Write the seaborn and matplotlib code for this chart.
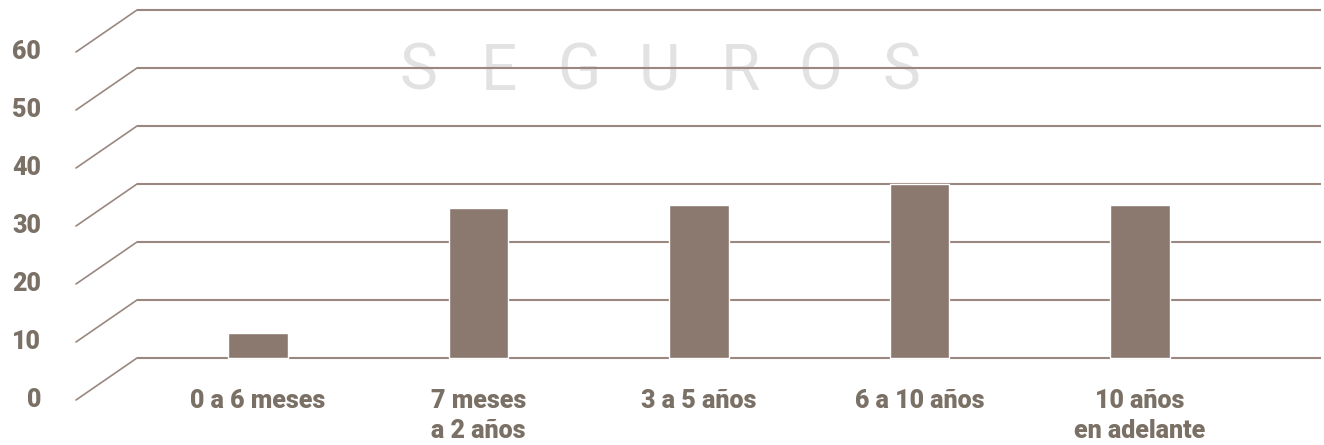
import matplotlib
matplotlib.use('Agg')
import matplotlib.pyplot as plt
import seaborn as sns
import pandas as pd

# valores
categorias = ['0 a 6 meses', '7 meses\na 2 años', '3 a 5 años', '6 a 10 años', '10 años\nen adelante']
valores = [4.3, 25.8, 26.4, 30.0, 26.4]
marcas_y = [0, 10, 20, 30, 40, 50, 60]
marca_agua = 'SEGUROS'

COLOR_BARRA = '#8b786f'
COLOR_LINEA = '#9a8880'
COLOR_TEXTO = '#7a7065'

sns.set_theme(style='white')
plt.rcParams['font.family'] = ['Roboto', 'DejaVu Sans']

W, H = 1324, 445
fig = plt.figure(figsize=(W / 100, H / 100), dpi=100)
px = 5.8  # pixeles por unidad
ax = fig.add_axes([137 / W, (H - 358 - px) / H, (1321 - 137) / W, (62 * px) / H])

df = pd.DataFrame({'cat': categorias, 'val': valores})
sns.barplot(data=df, x='cat', y='val', color=COLOR_BARRA, saturation=1,
            width=0.27, ax=ax, zorder=3)

ax.set_xlim(-0.549, 4.821)
ax.set_ylim(-1, 61)
ax.set_yticks(marcas_y)
ax.yaxis.grid(True, color=COLOR_LINEA, lw=1.5)
ax.set_axisbelow(True)
ax.tick_params(left=False, labelleft=False, bottom=False, pad=12)
ax.set_xlabel('')
ax.set_ylabel('')
for s in ax.spines.values():
    s.set_visible(False)

for lab in ax.get_xticklabels():
    lab.set_fontsize(18)
    lab.set_fontweight(900)
    lab.set_color(COLOR_TEXTO)
    lab.set_linespacing(1.35)
    lab.set_multialignment('center')

# lineas diagonales (efecto 3D) y etiquetas del eje y
x0 = ax.get_xlim()[0]
k = 72 / 100
for t in marcas_y:
    ax.annotate('', xy=(x0, t), xytext=(-61 * k, -42 * k), textcoords='offset points',
                arrowprops=dict(arrowstyle='-', color=COLOR_LINEA, lw=1.2,
                                shrinkA=0, shrinkB=0), annotation_clip=False)
    ax.annotate(str(t), xy=(x0, t), xytext=(-96 * k, -42 * k), textcoords='offset points',
                ha='right', va='center', fontsize=18, fontweight=900,
                color=COLOR_TEXTO, annotation_clip=False)

# marca de agua
for i, letra in enumerate(marca_agua):
    ax.text((418 + i * 80.5) / W, (H - 72) / H, letra, transform=fig.transFigure,
            ha='center', va='center', fontsize=46, fontweight='normal',
            color='#e2e2e2', zorder=0.1)

fig.savefig('out.png', dpi=100)
